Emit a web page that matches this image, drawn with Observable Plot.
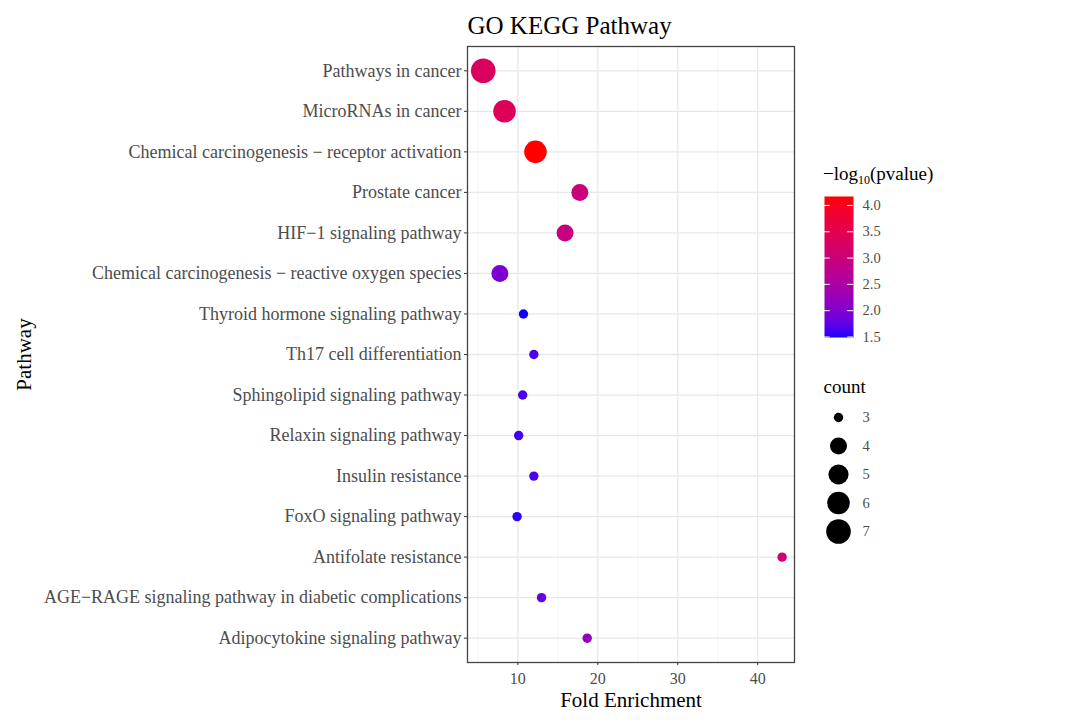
<!DOCTYPE html>
<html><head><meta charset="utf-8">
<script src="https://cdn.jsdelivr.net/npm/d3@7"></script>
<script src="https://cdn.jsdelivr.net/npm/@observablehq/plot@0.6"></script>
<style>
body{margin:0;background:#fff;}
#wrap{position:relative;width:1073px;height:720px;font-family:"Liberation Serif","Times New Roman",serif;}
#wrap svg{position:absolute;overflow:visible;}
</style></head><body><div id="wrap"></div>
<script>
const pathways = [
  "Pathways in cancer",
  "MicroRNAs in cancer",
  "Chemical carcinogenesis − receptor activation",
  "Prostate cancer",
  "HIF−1 signaling pathway",
  "Chemical carcinogenesis − reactive oxygen species",
  "Thyroid hormone signaling pathway",
  "Th17 cell differentiation",
  "Sphingolipid signaling pathway",
  "Relaxin signaling pathway",
  "Insulin resistance",
  "FoxO signaling pathway",
  "Antifolate resistance",
  "AGE−RAGE signaling pathway in diabetic complications",
  "Adipocytokine signaling pathway"
];
const foldEnrichment = [5.67, 8.33, 12.2, 17.75, 15.9, 7.75, 10.7, 12.0, 10.6, 10.1, 12.0, 9.9, 43.05, 12.96, 18.67];
const counts = [7, 6, 6, 4, 4, 4, 3, 3, 3, 3, 3, 3, 3, 3, 3];
const negLog10P = [3.30, 3.40, 4.17, 3.00, 2.95, 1.97, 1.50, 1.65, 1.65, 1.60, 1.65, 1.55, 3.05, 1.80, 2.20];
const xTicks = [10, 20, 30, 40];
const xMinorTicks = [5, 15, 25, 35];
const colorTicks = [1.5, 2.0, 2.5, 3.0, 3.5, 4.0];
const countBreaks = [3, 4, 5, 6, 7];
const titleText = "GO KEGG Pathway";
const xLabel = "Fold Enrichment";
const yLabel = "Pathway";

const data = pathways.map((p, i) => ({pathway: p, fe: foldEnrichment[i], count: counts[i], p: negLog10P[i]}));
const FONT = "Liberation Serif, Times New Roman, serif";
const colorOpts = {type: "linear", domain: [1.49, 4.17], range: ["blue", "red"], interpolate: d3.interpolateLab};
const rOpts = {type: "linear", transform: c => Math.sqrt(Math.max(0, c - 3)), domain: [0, 2], range: [4.7, 12.3]};

const wrap = document.getElementById("wrap");

const main = Plot.plot({
  width: 1073, height: 720,
  marginLeft: 467, marginRight: 279, marginTop: 46, marginBottom: 58,
  style: {fontFamily: FONT, background: "transparent", overflow: "visible"},
  x: {domain: [3.7, 44.6], axis: null},
  y: {type: "point", domain: pathways, padding: 0.6, round: false, axis: null},
  color: colorOpts,
  r: rOpts,
  marks: [
    Plot.ruleX(xMinorTicks, {stroke: "#f0f0f0", strokeWidth: 0.7}),
    Plot.ruleX(xTicks, {stroke: "#e8e8e8", strokeWidth: 1.3}),
    Plot.ruleY(pathways, {stroke: "#e8e8e8", strokeWidth: 1.3}),
    Plot.frame({stroke: "#444", strokeWidth: 1.3}),
    Plot.axisX({ticks: xTicks, tickSize: 3, tickPadding: 7, fontSize: 16, fill: "#4d4d4d", stroke: "#333", label: null}),
    Plot.axisY({tickSize: 3, tickPadding: 3, fontSize: 18, fill: "#4d4d4d", stroke: "#333", label: null}),
    Plot.dot(data, {x: "fe", y: "pathway", r: "count", fill: "p", stroke: null}),
    Plot.text([titleText], {frameAnchor: "top-left", textAnchor: "start", lineAnchor: "middle", dy: -21, fontSize: 25, fill: "black"}),
    Plot.text([xLabel], {frameAnchor: "bottom", textAnchor: "middle", lineAnchor: "middle", dy: 38, fontSize: 21, fill: "black"}),
    Plot.text([yLabel], {frameAnchor: "left", textAnchor: "middle", lineAnchor: "middle", dx: -443, rotate: -90, fontSize: 21, fill: "black"})
  ]
});
main.style.left = "0px"; main.style.top = "0px";
wrap.appendChild(main);

// colour bar legend
const cb = Plot.plot({
  width: 200, height: 220,
  marginLeft: 24, marginRight: 147, marginTop: 46, marginBottom: 33,
  style: {fontFamily: FONT, background: "transparent", overflow: "visible"},
  x: {domain: [0, 1], axis: null},
  y: {domain: [1.49, 4.17], axis: null},
  color: colorOpts,
  marks: [
    Plot.raster({fill: (x, y) => y, x1: 0, x2: 1, y1: 1.49, y2: 4.17, width: 2, height: 200, imageRendering: "auto"}),
    Plot.ruleY(colorTicks, {x1: 0, x2: 0.2, stroke: "white", strokeWidth: 1}),
    Plot.ruleY(colorTicks, {x1: 0.8, x2: 1, stroke: "white", strokeWidth: 1}),
    Plot.axisY({anchor: "right", ticks: colorTicks, tickSize: 0, tickPadding: 9, tickFormat: d3.format(".1f"), fontSize: 14.5, fill: "#4d4d4d", label: null})
  ]
});
cb.style.left = "800px"; cb.style.top = "150px";
wrap.appendChild(cb);
const t = d3.select(cb).append("text")
  .attr("x", 23).attr("y", 30).attr("text-anchor", "start")
  .attr("font-family", FONT).attr("font-size", 19).attr("fill", "black");
t.append("tspan").text("−log");
t.append("tspan").attr("font-size", 12).attr("dy", 4).text("10");
t.append("tspan").attr("dy", -4).text("(pvalue)");

// size legend
const sz = Plot.plot({
  width: 200, height: 200,
  marginLeft: 23, marginRight: 147, marginTop: 57, marginBottom: 29,
  style: {fontFamily: FONT, background: "transparent", overflow: "visible"},
  x: {axis: null},
  y: {type: "point", domain: countBreaks, padding: 0, round: false, axis: null},
  r: rOpts,
  marks: [
    Plot.dot(countBreaks, {y: d => d, r: d => d, fill: "black"}),
    Plot.axisY({anchor: "right", tickSize: 0, tickPadding: 9, fontSize: 14.5, fill: "#4d4d4d", label: null}),
    Plot.text(["count"], {frameAnchor: "top-left", textAnchor: "start", lineAnchor: "middle", dy: -31, fontSize: 19, fill: "black"})
  ]
});
sz.style.left = "800px"; sz.style.top = "360px";
wrap.appendChild(sz);
</script>
</body></html>
